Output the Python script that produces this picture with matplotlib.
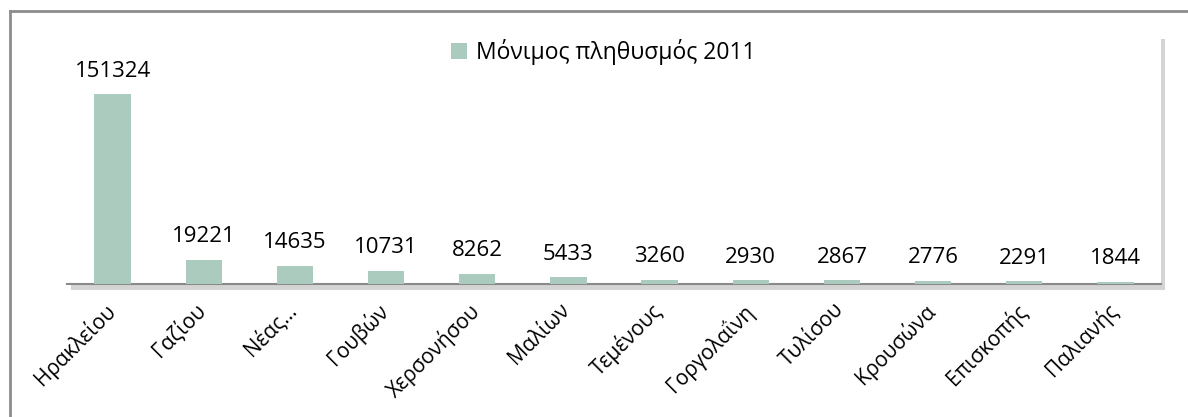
import matplotlib
matplotlib.use("Agg")
import matplotlib.pyplot as plt
import matplotlib.patheffects as pe
from matplotlib.lines import Line2D
from matplotlib.transforms import ScaledTranslation

plt.rcParams['font.family'] = ['Open Sans', 'DejaVu Sans']

categories = ["Ηρακλείου", "Γαζίου", "Νέας…", "Γουβών", "Χερσονήσου", "Μαλίων",
              "Τεμένους", "Γοργολαΐνη", "Τυλίσου", "Κρουσώνα", "Επισκοπής", "Παλιανής"]
values = [151324, 19221, 14635, 10731, 8262, 5433, 3260, 2930, 2867, 2776, 2291, 1844]
series_name = "Μόνιμος πληθυσμός 2011"

W, H = 1188, 417
fig = plt.figure(figsize=(W / 100, H / 100), dpi=100)

# outer border (top and left visible)
fig.add_artist(Line2D([10 / W, 10 / W], [-0.1, 1 - 11 / H], transform=fig.transFigure,
                      color='#8c8c8c', lw=2))
fig.add_artist(Line2D([10 / W, 1.1], [1 - 11 / H, 1 - 11 / H], transform=fig.transFigure,
                      color='#8c8c8c', lw=2))

ax = fig.add_axes([67 / W, 133 / H, 1094 / W, 251 / H])
ax.patch.set_path_effects([pe.SimplePatchShadow(offset=(3, -4), shadow_rgbFace='#a0a0a0', alpha=0.45),
                           pe.Normal()])

color = '#AACBBE'
x = list(range(len(categories)))
bars = ax.bar(x, values, width=0.4, color=color, label=series_name, zorder=3)
ax.set_xlim(-0.5, len(categories) - 0.5)
ax.set_ylim(0, 200000)

for xi, v in zip(x, values):
    ax.annotate(str(v), (xi, v), xytext=(0, 9), textcoords='offset points',
                ha='center', va='bottom', fontsize=16, color='black')

for s in ['top', 'left', 'right']:
    ax.spines[s].set_visible(False)
ax.spines['bottom'].set_color('#8a8a8a')
ax.spines['bottom'].set_linewidth(1.5)
ax.set_yticks([])
ax.set_xticks(x)
ax.set_xticklabels(categories, rotation=45, ha='right', rotation_mode='anchor', fontsize=15)
ax.tick_params(axis='x', length=0, pad=11)
offset = ScaledTranslation(-9 / 100, 0, fig.dpi_scale_trans)
for lab in ax.get_xticklabels():
    lab.set_transform(lab.get_transform() + offset)

fig.legend(handles=[bars], labels=[series_name], loc='center left',
           bbox_to_anchor=(451 / W, 1 - 52 / H), frameon=False, fontsize=16.5,
           handlelength=0.7, handleheight=0.7, handletextpad=0.4, borderpad=0, borderaxespad=0)

fig.savefig('out.png', dpi=100)
